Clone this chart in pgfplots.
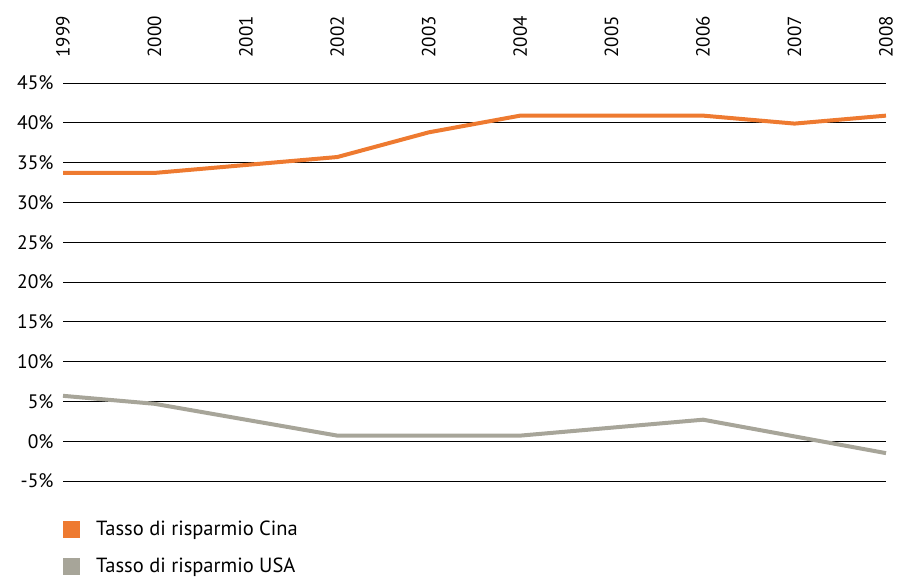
\documentclass[border=0pt]{standalone}
\usepackage{pgfplots}
\pgfplotsset{compat=1.18}
\usepackage{fontspec}
\setmainfont{PT Sans}
\definecolor{cina}{HTML}{EE7A30}
\definecolor{usa}{HTML}{A7A599}
\begin{document}
\begin{tikzpicture}[x=1pt,y=1pt]
\useasboundingbox (0,0) rectangle (906,577);
\begin{axis}[
  at={(63pt,96pt)}, anchor=south west,
  scale only axis, width=823pt, height=398pt,
  xmin=1999, xmax=2008, ymin=-5, ymax=45,
  axis line style={draw=none},
  major tick length=0pt,
  xtick={1999,...,2008},
  xticklabels={1999,2000,2001,2002,2003,2004,2005,2006,2007,2008},
  xticklabel pos=upper,
  xticklabel style={rotate=90, anchor=west, font=\fontsize{19}{20}\selectfont},
  xticklabel shift=22pt,
  ytick={-5,0,...,45},
  yticklabels={-5\%,0\%,5\%,10\%,15\%,20\%,25\%,30\%,35\%,40\%,45\%},
  yticklabel style={anchor=east, font=\fontsize{19.5}{20}\selectfont},
  yticklabel shift=6pt,
  ymajorgrids, major grid style={black, line width=0.9pt},
  clip=false,
  legend style={at={(0,0)}, anchor=north west, yshift=-38pt, xshift=0pt,
    draw=none, fill=none, font=\fontsize{20.5}{21}\selectfont,
    row sep=17pt, inner sep=0pt, cells={anchor=west}},
  legend image code/.code={\fill[#1,draw=none] (0pt,-8.5pt) rectangle (17pt,8.5pt);},
  legend cell align=left,
]
\addplot[cina, line width=4pt, line join=round] coordinates {
 (1999,33.7) (2000,33.7) (2001,34.7) (2002,35.7) (2003,38.8)
 (2004,40.9) (2005,40.9) (2006,40.9) (2007,39.9) (2008,40.9)};
\addlegendentry{\hspace{14pt}Tasso di risparmio Cina}
\addplot[usa, line width=4pt, line join=round] coordinates {
 (1999,5.7) (2000,4.7) (2001,2.7) (2002,0.7) (2003,0.7)
 (2004,0.7) (2005,1.7) (2006,2.7) (2007,0.6) (2008,-1.5)};
\addlegendentry{\hspace{14pt}Tasso di risparmio USA}
\end{axis}
\end{tikzpicture}
\end{document}
